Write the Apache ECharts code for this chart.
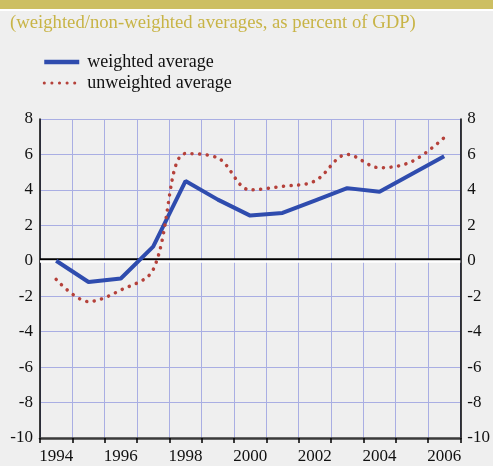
<!DOCTYPE html>
<html>
<head>
<meta charset="utf-8">
<script src="https://cdn.jsdelivr.net/npm/echarts@6/dist/echarts.min.js"></script>
<style>
  html, body { margin: 0; padding: 0; background: #efefef; }
  #chart { width: 493px; height: 466px; }
</style>
</head>
<body>
<div id="chart"></div>
<script>
const years = ['1994', '1995', '1996', '1997', '1998', '1999', '2000', '2001', '2002', '2003', '2004', '2005', '2006'];
const weighted = [0, -1.2, -1.0, 0.8, 4.5, 3.45, 2.55, 2.7, 3.4, 4.1, 3.9, 4.9, 5.9];
const unweighted = [-1.05, -2.3, -1.65, -0.5, 6.05, 5.8, 4.0, 4.2, 4.5, 6.0, 5.25, 5.6, 6.95];
const subtitle = '(weighted/non-weighted averages, as percent of GDP)';

const serif = '"Liberation Serif", "DejaVu Serif", serif';
const gridColor = '#a9aee3';
const blue = '#2f4cae';
const red = '#b5413a';
const dots = [0.1, 7.5];

const chart = echarts.init(document.getElementById('chart'));

const yAxisBase = {
  type: 'value',
  min: -10,
  max: 8,
  interval: 2,
  axisLine: { show: true, lineStyle: { color: '#000', width: 1.5 } },
  axisTick: { show: false },
  axisLabel: { color: '#111', fontFamily: serif, fontSize: 17, margin: 7 },
};

chart.setOption({
  backgroundColor: '#efefef',
  animation: false,
  graphic: [
    { type: 'rect', left: 0, top: 0, shape: { width: 493, height: 9 }, style: { fill: '#cdbf62' } },
    { type: 'rect', left: 0, top: 9, shape: { width: 493, height: 2 }, style: { fill: '#ffffff' } },
    {
      type: 'text',
      left: 10,
      top: 14,
      style: { text: subtitle, fill: '#c8b446', font: '18.7px ' + serif },
    },
  ],
  legend: {
    orient: 'vertical',
    left: 37,
    top: 48,
    itemWidth: 35,
    itemHeight: 12,
    itemGap: 3,
    textStyle: { color: '#111', fontFamily: serif, fontSize: 18, padding: [0, 0, 0, 3] },
    data: [
      { name: 'weighted average', itemStyle: { opacity: 0 }, lineStyle: { width: 4.5, color: blue } },
      { name: 'unweighted average', itemStyle: { opacity: 0 }, lineStyle: { width: 3, color: red, type: dots, cap: 'round' } },
    ],
  },
  grid: { left: 40, right: 31, top: 119, bottom: 28 },
  xAxis: {
    type: 'category',
    data: years,
    boundaryGap: true,
    axisLine: { show: true, onZero: false, lineStyle: { color: '#3a3a3a', width: 2.5 } },
    axisTick: { show: true, interval: 0, length: 5, lineStyle: { color: '#000', width: 1.5 } },
    axisLabel: { interval: 1, color: '#111', fontFamily: serif, fontSize: 17, margin: 10 },
    splitLine: { show: true, interval: 0, lineStyle: { color: gridColor, width: 1 } },
  },
  yAxis: [
    Object.assign({}, yAxisBase, {
      position: 'left',
      splitLine: { show: true, lineStyle: { color: gridColor, width: 1 } },
    }),
    Object.assign({}, yAxisBase, {
      position: 'right',
      splitLine: { show: false },
    }),
  ],
  series: [
    {
      name: 'weighted average',
      type: 'line',
      data: weighted,
      symbol: 'none',
      lineStyle: { color: blue, width: 4 },
      itemStyle: { color: blue },
      z: 3,
      markLine: {
        silent: true,
        symbol: 'none',
        label: { show: false },
        data: [{ yAxis: 0 }],
        lineStyle: { color: '#ffffff', width: 2.5, type: 'solid', shadowColor: '#000', shadowOffsetY: -2, shadowBlur: 0 },
        z: 1,
      },
    },
    {
      name: 'unweighted average',
      type: 'line',
      data: unweighted,
      symbol: 'none',
      smooth: 0.35,
      lineStyle: { color: red, width: 3.5, type: dots, cap: 'round' },
      itemStyle: { color: red },
      z: 4,
    },
  ],
});
</script>
</body>
</html>
